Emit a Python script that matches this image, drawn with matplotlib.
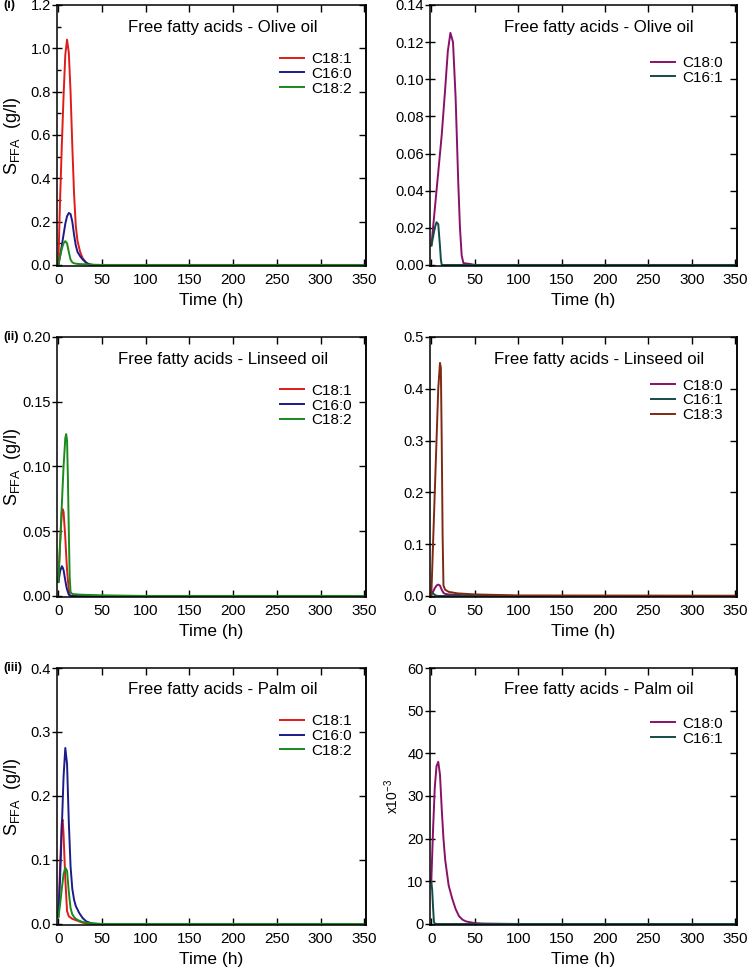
import matplotlib
matplotlib.use("Agg")
import matplotlib.pyplot as plt
from matplotlib.ticker import MultipleLocator, FormatStrFormatter

plt.rcParams['font.family'] = ['Liberation Sans', 'DejaVu Sans']
plt.rcParams['mathtext.default'] = 'regular'

# ---------------- data ----------------
# Olive oil, major FFAs (g/l)
olive_t1 = [0, 2, 4, 6, 8, 10, 12, 14, 16, 18, 20, 22, 25, 28, 32, 36, 40, 50, 100, 200, 350]
olive_c181 = [0, 0.30, 0.55, 0.78, 0.97, 1.04, 0.98, 0.80, 0.55, 0.33, 0.18, 0.11, 0.06, 0.03, 0.01, 0.002, 0, 0, 0, 0, 0]
olive_c160 = [0, 0.04, 0.09, 0.14, 0.19, 0.225, 0.24, 0.235, 0.20, 0.14, 0.09, 0.06, 0.04, 0.025, 0.01, 0.002, 0, 0, 0, 0, 0]
olive_c182 = [0, 0.04, 0.075, 0.10, 0.11, 0.10, 0.06, 0.025, 0.012, 0.008, 0.006, 0.005, 0.004, 0.0035, 0.003, 0.002, 0.001, 0, 0, 0, 0]
# Olive oil, minor FFAs (g/l)
olive_t2 = [0, 2, 4, 6, 8, 10, 11, 12, 16, 19, 22, 25, 28, 31, 33, 35, 37, 45, 50, 100, 350]
olive_c180 = [0.01, 0.02, 0.03, 0.04, 0.05, 0.06, 0.065, 0.07, 0.095, 0.115, 0.125, 0.12, 0.09, 0.045, 0.02, 0.005, 0.001, 0.0005, 0, 0, 0]
olive_c161 = [0.01, 0.015, 0.02, 0.023, 0.022, 0.01, 0.003, 0, 0, 0, 0, 0, 0, 0, 0, 0, 0, 0, 0, 0, 0]

# Linseed oil, major FFAs (g/l)
lin_t1 = [0, 2, 4, 5, 6, 8, 9, 10, 11, 12, 13, 14, 16, 25, 50, 100, 350]
lin_c181 = [0.01, 0.04, 0.065, 0.067, 0.065, 0.045, 0.032, 0.02, 0.012, 0.005, 0.001, 0, 0, 0, 0, 0, 0]
lin_c160 = [0.01, 0.019, 0.023, 0.022, 0.02, 0.012, 0.008, 0.005, 0.003, 0.001, 0.0005, 0, 0, 0, 0, 0, 0]
lin_c182 = [0.01, 0.04, 0.07, 0.085, 0.10, 0.122, 0.125, 0.12, 0.09, 0.05, 0.015, 0.003, 0.0015, 0.001, 0.0005, 0, 0]
# Linseed oil, minor FFAs (g/l)
lin_t2 = [0, 2, 4, 6, 8, 10, 11, 12, 13, 14, 16, 20, 30, 50, 100, 350]
lin_c180 = [0.003, 0.008, 0.015, 0.02, 0.022, 0.02, 0.016, 0.012, 0.009, 0.006, 0.004, 0.003, 0.002, 0.001, 0, 0]
lin_c161 = [0.008, 0.005, 0.002, 0.0005, 0, 0, 0, 0, 0, 0, 0, 0, 0, 0, 0, 0]
lin_c183 = [0, 0.10, 0.20, 0.30, 0.40, 0.45, 0.44, 0.30, 0.12, 0.02, 0.012, 0.008, 0.005, 0.003, 0.001, 0.0005]

# Palm oil, major FFAs (g/l)
palm_t1 = [0, 2, 4, 5, 6, 8, 10, 12, 14, 16, 18, 20, 24, 28, 32, 38, 45, 50, 100, 350]
palm_c181 = [0.01, 0.09, 0.16, 0.163, 0.14, 0.07, 0.02, 0.012, 0.01, 0.008, 0.007, 0.006, 0.004, 0.002, 0.001, 0, 0, 0, 0, 0]
palm_c160 = [0.01, 0.07, 0.15, 0.19, 0.23, 0.275, 0.25, 0.16, 0.09, 0.055, 0.038, 0.028, 0.017, 0.009, 0.004, 0.001, 0, 0, 0, 0]
palm_c182 = [0.01, 0.03, 0.055, 0.066, 0.078, 0.088, 0.083, 0.05, 0.025, 0.015, 0.011, 0.008, 0.005, 0.003, 0.002, 0.001, 0.0005, 0, 0, 0]
# Palm oil, minor FFAs (x10^-3 g/l)
palm_t2 = [0, 1, 2, 3, 4, 6, 8, 10, 12, 14, 16, 18, 20, 24, 28, 32, 36, 40, 50, 60, 100, 350]
palm_c180 = [10, 16, 22, 27, 32, 37, 38, 35, 27, 20, 15, 12, 9, 6, 3.5, 1.8, 1.0, 0.6, 0.2, 0.1, 0, 0]
palm_c161 = [10, 8, 4, 0.5, 0.1, 0, 0, 0, 0, 0, 0, 0, 0, 0, 0, 0, 0, 0, 0, 0, 0, 0]

titles = ["Free fatty acids - Olive oil", "Free fatty acids - Olive oil",
          "Free fatty acids - Linseed oil", "Free fatty acids - Linseed oil",
          "Free fatty acids - Palm oil", "Free fatty acids - Palm oil"]
panel_tags = ["(i)", "(ii)", "(iii)"]
x_ticks = [0, 50, 100, 150, 200, 250, 300, 350]

RED = '#e01b1b'
BLUE = '#1b1b8a'
GREEN = '#1a8a1a'
PURPLE = '#8a1068'
TEAL = '#134c46'
BROWN = '#7e2a12'

fig = plt.figure(figsize=(7.48, 9.69), dpi=100)
W, H = 748, 969

def ax_at(l, t, r, b):
    return fig.add_axes([l / W, 1 - b / H, (r - l) / W, (b - t) / H])

rows = [(5, 266), (337, 597), (668, 925)]
cols = [(57, 366), (430, 737)]

axes = []
for (t, b) in rows:
    for (l, r) in cols:
        axes.append(ax_at(l, t, r, b))

panels = [
    dict(series=[(olive_t1, olive_c181, RED, 'C18:1'), (olive_t1, olive_c160, BLUE, 'C16:0'), (olive_t1, olive_c182, GREEN, 'C18:2')],
         ylim=(0, 1.2), ystep=0.2, fmt='%.1f', leg_y=0.82, minor=0.1),
    dict(series=[(olive_t2, olive_c180, PURPLE, 'C18:0'), (olive_t2, olive_c161, TEAL, 'C16:1')],
         ylim=(0, 0.14), ystep=0.02, fmt='%.2f', leg_y=0.805, minor=None),
    dict(series=[(lin_t1, lin_c181, RED, 'C18:1'), (lin_t1, lin_c160, BLUE, 'C16:0'), (lin_t1, lin_c182, GREEN, 'C18:2')],
         ylim=(0, 0.2), ystep=0.05, fmt='%.2f', leg_y=0.82, minor=None),
    dict(series=[(lin_t2, lin_c180, PURPLE, 'C18:0'), (lin_t2, lin_c161, TEAL, 'C16:1'), (lin_t2, lin_c183, BROWN, 'C18:3')],
         ylim=(0, 0.5), ystep=0.1, fmt='%.1f', leg_y=0.84, minor=None),
    dict(series=[(palm_t1, palm_c181, RED, 'C18:1'), (palm_t1, palm_c160, BLUE, 'C16:0'), (palm_t1, palm_c182, GREEN, 'C18:2')],
         ylim=(0, 0.4), ystep=0.1, fmt='%.1f', leg_y=0.82, minor=None),
    dict(series=[(palm_t2, palm_c180, PURPLE, 'C18:0'), (palm_t2, palm_c161, TEAL, 'C16:1')],
         ylim=(0, 60), ystep=10, fmt='%d', leg_y=0.81, minor=None),
]

for i, (ax, p) in enumerate(zip(axes, panels)):
    for (tt, yy, c, lab) in p['series']:
        ax.plot(tt, yy, color=c, lw=1.4, label=lab, solid_capstyle='butt')
    ax.set_xlim(-1.5, 352)
    lo, hi = p['ylim']
    ax.set_ylim(lo - (hi - lo) * 0.004, hi)
    ax.set_xticks(x_ticks)
    ax.yaxis.set_major_locator(MultipleLocator(p['ystep']))
    ax.yaxis.set_major_formatter(FormatStrFormatter(p['fmt']))
    if p['minor']:
        ax.yaxis.set_minor_locator(MultipleLocator(p['minor']))
        ax.tick_params(axis='y', which='minor', direction='in', length=3, width=1, left=True, right=False)
    else:
        ax.tick_params(axis='y', which='minor', left=False, right=False)
    ax.tick_params(axis='both', which='major', direction='in', length=5, width=1,
                   top=True, right=True, labelsize=11, pad=3)
    ax.tick_params(axis='x', which='major', pad=5)
    ax.tick_params(axis='y', which='major', direction='inout', length=7, left=True, right=False,
                   labelsize=10.5, pad=1)
    sec = ax.secondary_yaxis('right')
    sec.yaxis.set_major_locator(MultipleLocator(p['ystep']))
    sec.tick_params(direction='in', length=5, width=1, labelright=False)
    for s in ax.spines.values():
        s.set_linewidth(1.1)
    sec.spines['right'].set_linewidth(1.1)
    ax.set_xlabel('Time (h)', fontsize=12.5, labelpad=4.5)
    ax.text(0.537 if i % 2 == 0 else 0.55, 0.915, titles[i], transform=ax.transAxes,
            ha='center', va='center', fontsize=12.1)
    ax.legend(loc='upper right', bbox_to_anchor=(0.955, p['leg_y']), frameon=False, fontsize=11,
              handlelength=1.7, handletextpad=0.45, labelspacing=0.05, borderaxespad=0, borderpad=0)
    if i % 2 == 0:
        ax.set_ylabel('S$_{FFA}$  (g/l)', fontsize=13)
        ax.yaxis.set_label_coords(-0.11, 0.5)
        ax.text(-0.175, 1.0, panel_tags[i // 2], transform=ax.transAxes, fontsize=9,
                fontweight='bold', ha='left', va='center')

axes[5].set_ylabel('x10$^{-3}$', fontsize=10)
axes[5].yaxis.set_label_coords(-0.095, 0.5)

fig.savefig('out.png', dpi=100)
